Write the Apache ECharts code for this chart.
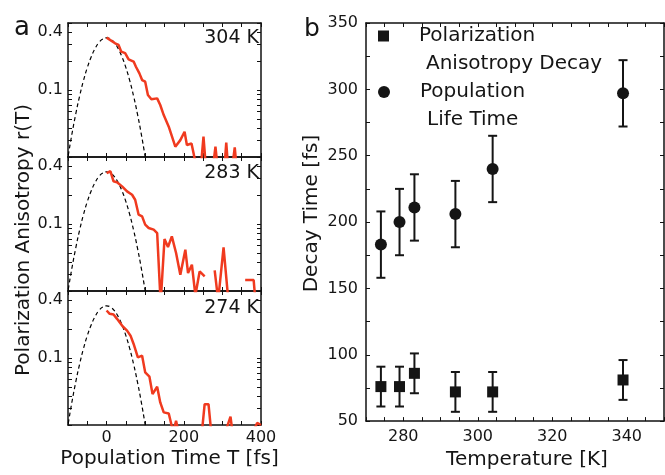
<!DOCTYPE html>
<html><head><meta charset="utf-8">
<script src="https://cdn.jsdelivr.net/npm/echarts@6/dist/echarts.min.js"></script>
<style>html,body{margin:0;padding:0;background:#fff}#c{width:665px;height:475px}</style>
</head><body><div id="c"></div>
<script>
// ---------- data ----------
const panelTemps = ['304 K', '283 K', '274 K'];

const t304 = [0, 22, 31, 38, 48, 57, 70, 76, 85, 92, 100, 107, 116, 131, 139, 148, 161, 178, 191, 202, 208, 220, 228, 240, 246, 251, 256, 262, 275, 282, 288, 300, 305, 310, 315, 325, 332, 337];
const r304 = [0.352, 0.307, 0.295, 0.251, 0.242, 0.209, 0.198, 0.175, 0.149, 0.127, 0.122, 0.0887, 0.080, 0.0818, 0.0697, 0.0548, 0.0414, 0.0256, 0.030, 0.0367, 0.0267, 0.0277, 0.0194, 0.015, 0.019, 0.0326, 0.018, 0.015, 0.015, 0.0256, 0.015, 0.016, 0.015, 0.0282, 0.015, 0.015, 0.0252, 0.015];

const t283 = [0, 10, 18, 27, 40, 53, 66, 74, 83, 92, 100, 109, 122, 131, 140, 150, 159, 169, 180, 191, 204, 211, 221, 230, 241, 254, null, 280, 289, 303, 316, null, 359, 381, 386];
const r283 = [0.340, 0.355, 0.279, 0.272, 0.247, 0.219, 0.202, 0.179, 0.125, 0.120, 0.0984, 0.0908, 0.0873, 0.0805, 0.015, 0.0697, 0.0575, 0.0743, 0.0498, 0.0296, 0.054, 0.0308, 0.0376, 0.018, 0.032, 0.0284, null, 0.0328, 0.016, 0.057, 0.015, null, 0.026, 0.026, 0.015];

const t274 = [0, 8, 18, 27, 40, 53, 62, 70, 81, 92, 100, 111, 119, 131, 139, 148, 161, 168, 173, 180, 186, 200, 215, 230, 247, 254, 264, 271, 300, 308, 321, 326, 345, 380, 390, 400];
const r274 = [0.313, 0.289, 0.284, 0.256, 0.218, 0.193, 0.171, 0.140, 0.1016, 0.1057, 0.0708, 0.0638, 0.042, 0.0501, 0.0344, 0.0271, 0.0264, 0.0201, 0.017, 0.0221, 0.017, 0.018, 0.017, 0.017, 0.017, 0.033, 0.033, 0.017, 0.017, 0.017, 0.0245, 0.017, 0.017, 0.017, 0.021, 0.020];

const pulseT = [-105, -100, -90, -80, -70, -60, -50, -40, -30, -20, -10, 0, 10, 20, 30, 40, 50, 60, 70, 80, 90, 100, 105];
const pulseR = [0.0149, 0.0200, 0.0344, 0.0560, 0.0861, 0.125, 0.171, 0.221, 0.270, 0.312, 0.340, 0.350, 0.340, 0.312, 0.270, 0.221, 0.171, 0.125, 0.0861, 0.0560, 0.0344, 0.0200, 0.0149];

const temperatures = [274, 279, 283, 294, 304, 339];
const anisoDecay = [76, 76, 86, 72, 72, 81];
const anisoErr = [15, 15, 15, 15, 15, 15];
const popLife = [183, 200, 211, 206, 240, 297];
const popErr = [25, 25, 25, 25, 25, 25];

const yTicksA = [0.02, 0.03, 0.04, 0.05, 0.06, 0.07, 0.08, 0.09, 0.1, 0.2, 0.3, 0.4, 0.5];
const yLabelsA = [0.1, 0.4];
const xLabelsA = [0, 200, 400];
const xLabelsB = [280, 300, 320, 340];
const yLabelsB = [50, 100, 150, 200, 250, 300, 350];

// ---------- build ----------
const FONT = 'DejaVu Sans';
const TXT = '#151515';
const AX = '#111';
const RED = '#f03a1f';

const pair = (xs, ys) => xs.map((x, i) => (x == null || ys[i] == null) ? ['-', '-'] : [x, ys[i]]);
const redSets = [pair(t304, r304), pair(t283, r283), pair(t274, r274)];
const pulse = pair(pulseT, pulseR);

const gridTops = [23, 157, 291];
const grids = gridTops.map(t => ({left: 68, top: t, width: 193, height: 134}));
grids.push({left: 366, top: 23, width: 298, height: 402});

const axLine = {show: true, onZero: false, lineStyle: {color: AX, width: 1.5}};
const tick = {show: true, inside: true, length: 4, lineStyle: {color: AX, width: 1}};
const lbl = {fontFamily: FONT, fontSize: 16, color: TXT};

const xAxes = [], yAxes = [], series = [];
for (let i = 0; i < 3; i++) {
  const base = {type: 'value', gridIndex: i, min: -100, max: 400, interval: 50, splitLine: {show: false}, axisLine: axLine, axisTick: tick};
  xAxes.push(Object.assign({}, base, {position: 'bottom',
    axisLabel: Object.assign({show: i === 2, customValues: xLabelsA, margin: 5}, lbl),
    name: i === 2 ? 'Population Time T [fs]' : '', nameLocation: 'middle', nameGap: 24,
    nameTextStyle: {fontFamily: FONT, fontSize: 20, color: TXT, padding: [0, 0, 0, 10]}}));
  xAxes.push(Object.assign({}, base, {position: 'top', axisLabel: {show: false}}));
  const ybase = {type: 'log', logBase: 10, gridIndex: i, min: 0.02, max: 0.5, splitLine: {show: false}, axisLine: axLine,
    axisTick: Object.assign({customValues: yTicksA}, tick), minorTick: {show: false}};
  yAxes.push(Object.assign({}, ybase, {position: 'left',
    axisLabel: Object.assign({show: true, customValues: yLabelsA, margin: 5, formatter: v => String(v)}, lbl)}));
  yAxes.push(Object.assign({}, ybase, {position: 'right', axisLabel: {show: false}}));

  series.push({type: 'line', name: 'pulse ' + panelTemps[i], xAxisIndex: 2 * i, yAxisIndex: 2 * i, data: pulse, smooth: true,
    showSymbol: false, symbol: 'none', clip: true, silent: true,
    lineStyle: {color: '#000', width: 1.2, type: [4, 3]}, z: 2});
  series.push({type: 'line', name: panelTemps[i], xAxisIndex: 2 * i, yAxisIndex: 2 * i, data: redSets[i],
    showSymbol: false, symbol: 'none', clip: true, connectNulls: false,
    lineStyle: {color: RED, width: 2.5}, z: 3});
}
// panel b
const bx = {type: 'value', gridIndex: 3, min: 270, max: 350, interval: 5, splitLine: {show: false}, axisLine: axLine, axisTick: tick};
xAxes.push(Object.assign({}, bx, {position: 'bottom',
  axisLabel: Object.assign({show: true, customValues: xLabelsB, margin: 8}, lbl),
  name: 'Temperature [K]', nameLocation: 'middle', nameGap: 28,
  nameTextStyle: {fontFamily: FONT, fontSize: 20, color: TXT, padding: [0, 0, 0, 24]}}));
xAxes.push(Object.assign({}, bx, {position: 'top', axisLabel: {show: false}}));
const by = {type: 'value', gridIndex: 3, min: 50, max: 350, interval: 25, splitLine: {show: false}, axisLine: axLine, axisTick: tick};
yAxes.push(Object.assign({}, by, {position: 'left',
  axisLabel: Object.assign({show: true, customValues: yLabelsB, margin: 8}, lbl),
  name: 'Decay Time [fs]', nameLocation: 'middle', nameGap: 44,
  nameTextStyle: {fontFamily: FONT, fontSize: 20, color: TXT, padding: [0, 0, 0, 17]}}));
yAxes.push(Object.assign({}, by, {position: 'right', axisLabel: {show: false}}));

function errRender(params, api) {
  const x = api.value(0), lo = api.value(1), hi = api.value(2);
  const p1 = api.coord([x, hi]);
  const p2 = api.coord([x, lo]);
  const hw = 4.5;
  const style = {stroke: '#151515', lineWidth: 2};
  return {type: 'group', children: [
    {type: 'line', shape: {x1: p1[0], y1: p1[1], x2: p2[0], y2: p2[1]}, style: style},
    {type: 'line', shape: {x1: p1[0] - hw, y1: p1[1], x2: p1[0] + hw, y2: p1[1]}, style: style},
    {type: 'line', shape: {x1: p2[0] - hw, y1: p2[1], x2: p2[0] + hw, y2: p2[1]}, style: style}
  ]};
}
const errData = (vals, errs) => temperatures.map((t, i) => [t, vals[i] - errs[i], vals[i] + errs[i]]);

series.push({type: 'custom', name: 'aniso err', xAxisIndex: 6, yAxisIndex: 6, renderItem: errRender,
  encode: {x: 0, y: [1, 2]}, data: errData(anisoDecay, anisoErr), z: 2, silent: true});
series.push({type: 'custom', name: 'pop err', xAxisIndex: 6, yAxisIndex: 6, renderItem: errRender,
  encode: {x: 0, y: [1, 2]}, data: errData(popLife, popErr), z: 2, silent: true});
series.push({type: 'scatter', name: 'Polarization Anisotropy Decay', xAxisIndex: 6, yAxisIndex: 6, symbol: 'rect', symbolSize: 11,
  itemStyle: {color: '#151515', opacity: 1}, data: temperatures.map((t, i) => [t, anisoDecay[i]]), z: 4});
series.push({type: 'scatter', name: 'Population Life Time', xAxisIndex: 6, yAxisIndex: 6, symbol: 'circle', symbolSize: 12,
  itemStyle: {color: '#151515', opacity: 1}, data: temperatures.map((t, i) => [t, popLife[i]]), z: 4});

const legendRich = {
  h: {fontFamily: FONT, fontSize: 20, lineHeight: 28},
  a: {fontFamily: FONT, fontSize: 20, lineHeight: 28, color: TXT, padding: [0, 0, 0, 25]},
  b: {fontFamily: FONT, fontSize: 20, lineHeight: 28, color: TXT, padding: [0, 0, 0, 32]}
};
const legendText = {
  'Polarization Anisotropy Decay': ['Polarization', 'Anisotropy Decay'],
  'Population Life Time': ['Population', 'Life Time']
};
const legFmt = name => '{h| }\n{a|' + legendText[name][0] + '}\n{b|' + legendText[name][1] + '}';

const option = {
  animation: false,
  backgroundColor: '#fff',
  textStyle: {fontFamily: FONT},
  grid: grids,
  xAxis: xAxes,
  yAxis: yAxes,
  legend: [
    {data: [{name: 'Polarization Anisotropy Decay', icon: 'rect', itemStyle: {color: '#151515', opacity: 1}}], left: 378, top: -2, padding: 0,
      itemWidth: 11, itemHeight: 11, selectedMode: false, formatter: legFmt, textStyle: {rich: legendRich}},
    {data: [{name: 'Population Life Time', icon: 'circle', itemStyle: {color: '#151515', opacity: 1}}], left: 378, top: 54, padding: 0,
      itemWidth: 12, itemHeight: 12, selectedMode: false, formatter: legFmt, textStyle: {rich: legendRich}}
  ],
  graphic: [
    {type: 'text', left: 14, top: 15, style: {text: 'a', font: '26px "DejaVu Sans"', fill: TXT}},
    {type: 'text', left: 304, top: 17, style: {text: 'b', font: '25px "DejaVu Sans"', fill: TXT}},
    {type: 'text', x: 259, y: 38.5, style: {text: panelTemps[0], font: '19px "DejaVu Sans"', fill: TXT, align: 'right', verticalAlign: 'middle'}},
    {type: 'text', x: 259, y: 173, style: {text: panelTemps[1], font: '19px "DejaVu Sans"', fill: TXT, align: 'right', verticalAlign: 'middle'}},
    {type: 'text', x: 259, y: 308, style: {text: panelTemps[2], font: '19px "DejaVu Sans"', fill: TXT, align: 'right', verticalAlign: 'middle'}},
    {type: 'text', x: 24, y: 240, rotation: Math.PI / 2, style: {text: 'Polarization Anisotropy r(T)', font: '20px "DejaVu Sans"', fill: TXT, align: 'center', verticalAlign: 'middle'}}
  ],
  series: series
};
const chart = echarts.init(document.getElementById('c'), null, {renderer: 'canvas'});
chart.setOption(option);
</script>
</body></html>
